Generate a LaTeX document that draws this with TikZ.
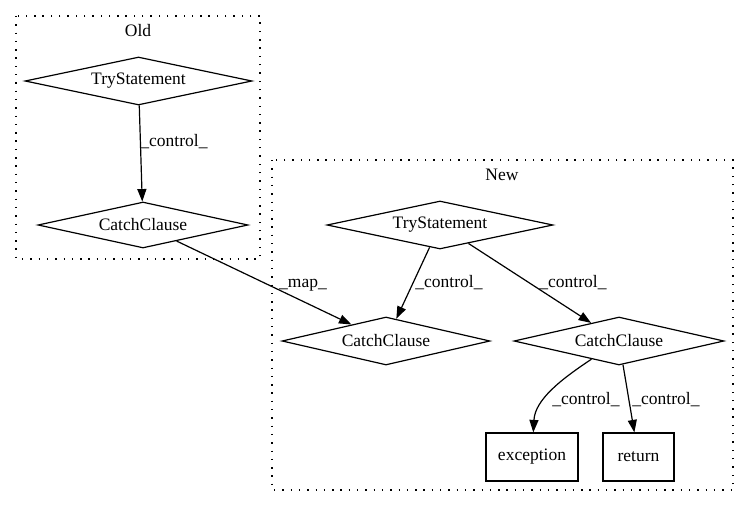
\documentclass[tikz,border=0pt]{standalone}
\usepackage{fontspec}
\setmainfont{Liberation Serif}
\usetikzlibrary{shapes.geometric,arrows.meta}
\begin{document}
\begin{tikzpicture}[x=1pt,y=-1pt,
  every node/.style={font=\fontsize{17.5}{20}\selectfont},
  dia/.style={draw,shape=diamond,shape aspect=4.7,inner sep=0pt,line width=1.2pt},
  boxn/.style={draw,rectangle,inner sep=0pt,minimum height=48pt,line width=1.2pt},
  cluster/.style={draw,line width=1.4pt,dash pattern=on 1.4pt off 6.9pt},
  edge/.style={line width=1.2pt,-{Triangle[length=12.5pt,width=9pt]}},
  lbl/.style={inner sep=0pt}]
\useasboundingbox (0,0) rectangle (749,508);
% clusters
\draw[cluster] (16,16) rectangle (260,259);
\node[lbl] (oldlbl) at (138,31) {Old};
\draw[cluster] (272,160) rectangle (733,490);
\node[lbl] (newlbl) at (502,175) {New};
% nodes
\node[dia,minimum width=227pt,minimum height=48pt] (otry) at (138.5,81) {TryStatement};
\node[dia,minimum width=210pt,minimum height=46pt] (ocatch) at (143,225) {CatchClause};
\node[dia,minimum width=226pt,minimum height=48pt] (ntry) at (440,225) {TryStatement};
\node[dia,minimum width=208pt,minimum height=48pt] (lcatch) at (386,341) {CatchClause};
\node[dia,minimum width=210pt,minimum height=48pt] (rcatch) at (619,341) {CatchClause};
\node[boxn,minimum width=92pt] (exc) at (532,457) {exception};
\node[boxn,minimum width=71pt] (ret) at (638.5,457) {return};
% edges
\draw[edge] (otry) -- (ocatch);
\draw[edge] (ocatch) -- (lcatch);
\draw[edge] (ntry) -- (lcatch);
\draw[edge] (ntry) -- (rcatch);
\draw[edge] (rcatch) .. controls (560,380) and (535,400) .. (exc);
\draw[edge] (rcatch) -- (ret);
% edge labels
\node[lbl] (l1) at (174,142) {\_control\_};
\node[lbl] (l2) at (303,285) {\_map\_};
\node[lbl] (l3) at (449,283) {\_control\_};
\node[lbl] (l4) at (573,283) {\_control\_};
\node[lbl] (l5) at (586,400) {\_control\_};
\node[lbl] (l6) at (666,400) {\_control\_};
\end{tikzpicture}
\end{document}
